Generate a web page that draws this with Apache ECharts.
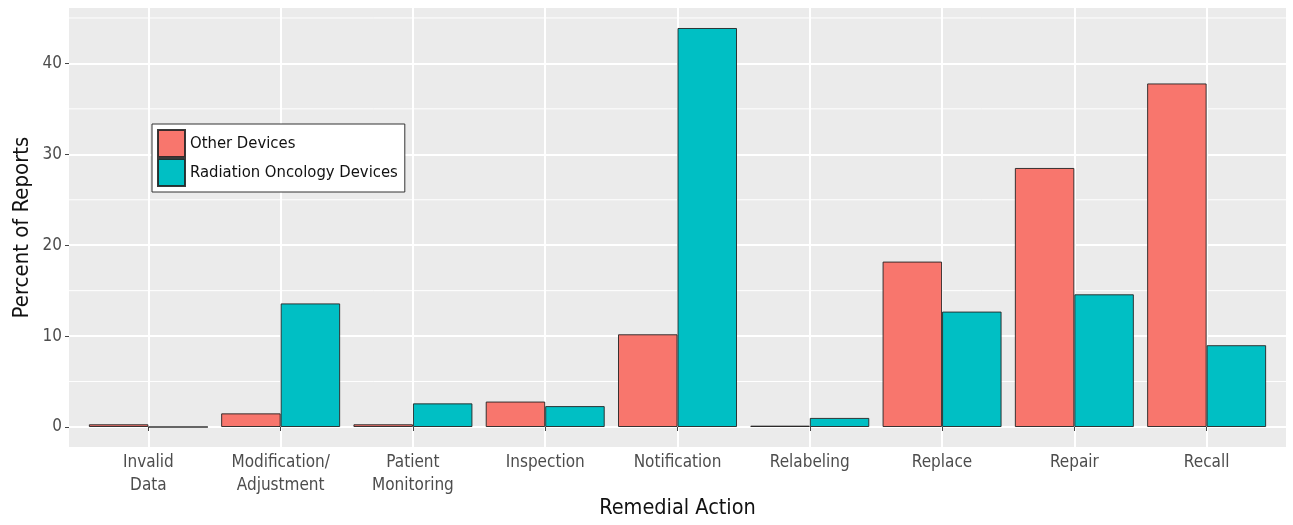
<!DOCTYPE html>
<html><head><meta charset="utf-8">
<script src="https://cdn.jsdelivr.net/npm/echarts@6/dist/echarts.min.js"></script>
<style>html,body{margin:0;padding:0;background:#fff}#c{width:1293px;height:525px}</style>
</head><body><div id="c"></div>
<script>
const categories = ['Invalid\nData','Modification/\nAdjustment','Patient\nMonitoring','Inspection','Notification','Relabeling','Replace','Repair','Recall'];
const otherDevices = [0.3, 1.5, 0.3, 2.8, 10.2, 0.15, 18.2, 28.5, 37.8];
const radiationDevices = [0, 13.6, 2.6, 2.3, 43.9, 1.0, 12.7, 14.6, 9.0];
const yTicks = [0, 10, 20, 30, 40];
const yMinor = [5, 15, 25, 35, 45];
const seriesNames = ['Other Devices', 'Radiation Oncology Devices'];

const FONT = '"DejaVu Sans Condensed", "Liberation Sans Narrow", sans-serif';
const X_MIN = 0.4, X_MAX = 9.6;
const xPos = categories.map((c, i) => i + 1);
const chart = echarts.init(document.getElementById('c'), null, {renderer: 'canvas'});
const barStyle = c => ({color: c, borderColor: 'rgba(35,35,35,0.9)', borderWidth: 1});
const minorSeries = yMinor.map(v => ({
  type: 'line', z: 1, silent: true, symbol: 'none', legendHoverLink: false,
  lineStyle: {color: '#fff', width: 1}, data: [[X_MIN, v], [X_MAX, v]]
}));
chart.setOption({
  animation: false,
  backgroundColor: '#fff',
  grid: {left: 69, right: 7, top: 8, bottom: 78, show: true, backgroundColor: '#EBEBEB', borderWidth: 0,
    outerBoundsMode: 'none', containLabel: false},
  legend: {
    orient: 'vertical', left: 152, top: 124, itemWidth: 27, itemHeight: 27, itemGap: 0,
    padding: [5, 7, 5, 5], borderColor: '#333', borderWidth: 1, backgroundColor: '#fff',
    textStyle: {fontFamily: FONT, fontSize: 16.5, color: '#111', padding: [0, 0, 0, 0]},
    data: seriesNames.map(n => ({name: n, icon: 'rect'}))
  },
  xAxis: {
    type: 'value', min: X_MIN, max: X_MAX,
    name: 'Remedial Action', nameLocation: 'middle', nameGap: 50, nameMoveOverlap: false,
    nameTextStyle: {fontFamily: FONT, fontSize: 21.5, color: '#111'},
    axisLine: {show: false},
    axisTick: {show: true, length: 4, lineStyle: {color: '#444', width: 1}, customValues: xPos},
    axisLabel: {customValues: xPos, formatter: v => categories[Math.round(v) - 1] || '',
      fontFamily: FONT, fontSize: 17, color: '#4D4D4D', lineHeight: 23, margin: 4},
    splitLine: {show: true, lineStyle: {color: '#fff', width: 2}, customValues: xPos}
  },
  yAxis: {
    type: 'value', min: -2.2, max: 46.1,
    name: 'Percent of Reports', nameLocation: 'middle', nameGap: 36, nameRotate: 90, nameMoveOverlap: false,
    nameTextStyle: {fontFamily: FONT, fontSize: 22, color: '#111'},
    axisLine: {show: false},
    axisTick: {show: true, length: 4, lineStyle: {color: '#444', width: 1}, customValues: yTicks},
    axisLabel: {customValues: yTicks, fontFamily: FONT, fontSize: 17, color: '#4D4D4D', margin: 7},
    splitLine: {show: true, lineStyle: {color: '#fff', width: 2}, customValues: yTicks}
  },
  series: minorSeries.concat([
    {name: seriesNames[0], type: 'bar', z: 3, barWidth: 59.5, barGap: '0%',
      itemStyle: barStyle('#F8766D'), data: xPos.map((x, i) => [x, otherDevices[i]])},
    {name: seriesNames[1], type: 'bar', z: 3, barWidth: 59.5, barGap: '0%',
      itemStyle: barStyle('#00BFC4'), data: xPos.map((x, i) => [x, radiationDevices[i]])}
  ])
});
</script></body></html>
